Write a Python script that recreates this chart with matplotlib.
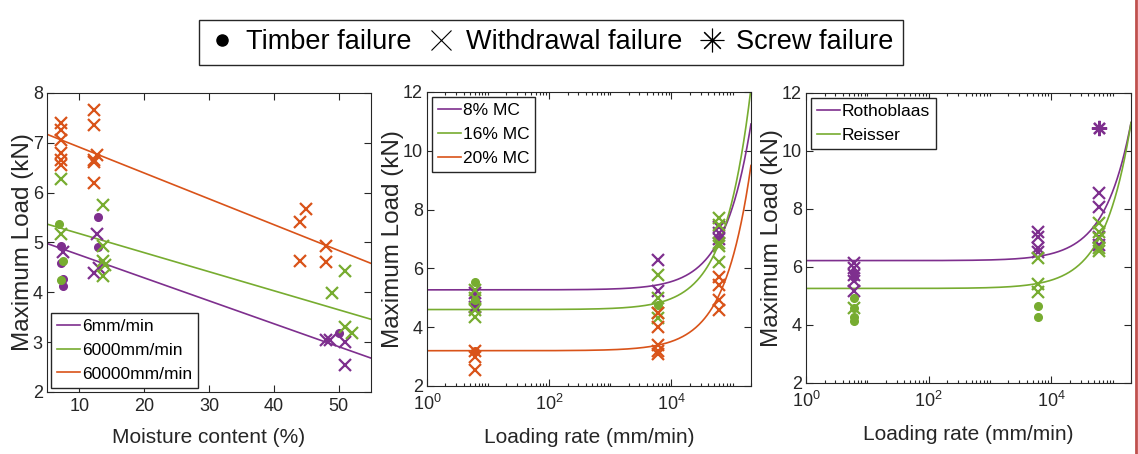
import matplotlib.pyplot as plt
import numpy as np
from matplotlib.lines import Line2D
from matplotlib.ticker import FixedLocator, LogLocator, NullFormatter

# Шрифт, схожий на Helvetica з оригіналу
plt.rcParams['font.family'] = ['Liberation Sans', 'DejaVu Sans']
plt.rcParams['mathtext.default'] = 'regular'

PURPLE = '#7E2F8E'
GREEN = '#77AC30'
ORANGE = '#D95319'

# ---- Панель 1: навантаження від вологості ----
rate_labels = ['6mm/min', '6000mm/min', '60000mm/min']
# коефіцієнти лінійної апроксимації: load = a + b * MC
rate_fit_a = [5.21, 5.56, 7.43]
rate_fit_b = [-0.046, -0.0382, -0.0518]

mc_purple_dot = [7.2, 7.2, 7.5, 7.5, 12.8, 12.8, 50.0]
kn_purple_dot = [4.92, 4.58, 4.26, 4.12, 5.52, 4.90, 3.18]
mc_purple_x = [7.5, 12.7, 12.3, 13.0, 48.0, 48.6, 51.0, 51.0]
kn_purple_x = [4.80, 5.18, 4.38, 4.48, 3.05, 3.05, 3.00, 2.55]

mc_green_dot = [6.9, 7.4, 7.1]
kn_green_dot = [5.37, 4.63, 4.25]
mc_green_x = [7.2, 7.2, 13.7, 13.7, 13.7, 13.7, 13.9, 49.0, 51.0, 51.0, 52.0]
kn_green_x = [6.28, 5.18, 5.75, 4.93, 4.62, 4.32, 4.55, 3.98, 4.42, 3.31, 3.18]

mc_orange_x = [7.2, 7.2, 7.2, 7.2, 7.2, 7.2, 12.2, 12.2, 12.2, 12.2, 12.2, 12.7,
               44.0, 44.0, 45.0, 48.0, 48.0]
kn_orange_x = [7.40, 7.25, 7.05, 6.80, 6.65, 6.55, 7.65, 7.35, 6.65, 6.62, 6.20, 6.75,
               5.42, 4.62, 5.68, 4.92, 4.60]

# ---- Панель 2: навантаження від швидкості (вологість) ----
mc_labels = ['8% MC', '16% MC', '20% MC']
# load = a + b * rate
mc_fit_a = [5.27, 4.60, 3.20]
mc_fit_b = [2.82e-5, 3.76e-5, 3.15e-5]

r2_purple_dot = [6, 6, 60000]
kn2_purple_dot = [5.00, 4.75, 7.00]
r2_purple_x = [6, 6, 6000, 6000, 60000, 60000, 60000]
kn2_purple_x = [5.15, 4.70, 6.30, 5.24, 7.42, 7.20, 7.00]

r2_green_dot = [6, 6, 6000]
kn2_green_dot = [5.52, 4.92, 4.75]
r2_green_x = [6, 6, 6, 6, 6000, 6000, 6000, 6000, 60000, 60000, 60000, 60000, 60000]
kn2_green_x = [5.26, 4.98, 4.58, 4.35, 5.77, 4.98, 4.47, 4.30, 7.70, 7.48, 6.85, 6.75, 6.22]

r2_orange_dot = [6]
kn2_orange_dot = [3.18]
r2_orange_x = [6, 6, 6, 6000, 6000, 6000, 6000, 6000, 60000, 60000, 60000, 60000]
kn2_orange_x = [3.20, 3.00, 2.55, 4.47, 4.00, 3.40, 3.20, 3.10, 5.72, 5.43, 4.92, 4.58]

# ---- Панель 3: навантаження від швидкості (тип шурупа) ----
screw_labels = ['Rothoblaas', 'Reisser']
screw_fit_a = [6.22, 5.26]
screw_fit_b = [2.38e-5, 2.86e-5]

r3_purple_dot = [6, 6]
kn3_purple_dot = [5.78, 5.67]
r3_purple_x = [6, 6, 6, 6, 6, 6000, 6000, 6000, 6000, 60000, 60000, 60000, 60000]
kn3_purple_x = [6.15, 5.95, 5.72, 5.50, 5.18, 7.20, 7.05, 6.64, 6.53, 8.54, 8.06, 7.05, 6.75]
r3_purple_star = [60000]
kn3_purple_star = [10.79]

r3_green_dot = [6, 6, 6, 6, 6000, 6000]
kn3_green_dot = [4.92, 4.57, 4.26, 4.14, 4.65, 4.26]
r3_green_x = [6, 6000, 6000, 6000, 60000, 60000, 60000, 60000, 60000]
kn3_green_x = [4.60, 6.30, 5.40, 5.15, 7.50, 7.22, 7.00, 6.66, 6.55]

fig = plt.figure(figsize=(11.38, 4.54), dpi=100)
ax1 = fig.add_axes([0.0413, 0.1366, 0.2847, 0.6586])
ax2 = fig.add_axes([0.3752, 0.1498, 0.2847, 0.6476])
ax3 = fig.add_axes([0.7083, 0.1564, 0.2856, 0.6388])

dot_kw = dict(linestyle='none', marker='o', markersize=5.5)
x_kw = dict(linestyle='none', marker='x', markersize=8.5, markeredgewidth=1.6)
TXT = '#262626'
leg_kw = dict(fontsize=12.5, handlelength=1.3, handletextpad=0.1, borderpad=0.35,
              labelspacing=0.5, fancybox=False, edgecolor=TXT, framealpha=1)


def style_axis(ax):
    ax.tick_params(which='both', direction='in', top=True, right=True,
                   labelsize=13, width=0.8, colors=TXT, labelcolor=TXT)
    ax.tick_params(axis='y', pad=3)
    ax.tick_params(axis='x', pad=6)
    ax.tick_params(which='major', length=5)
    ax.tick_params(which='minor', length=2.5)
    for s in ax.spines.values():
        s.set_color(TXT)
        s.set_linewidth(0.8)
    ax.set_ylabel('Maximum Load (kN)', fontsize=17.5, color=TXT, labelpad=-1)


# панель 1
mc_line = np.linspace(5, 55, 50)
for a, b, c, lab in zip(rate_fit_a, rate_fit_b, [PURPLE, GREEN, ORANGE], rate_labels):
    ax1.plot(mc_line, a + b * mc_line, color=c, lw=1.2, label=lab)
ax1.plot(mc_purple_dot, kn_purple_dot, color=PURPLE, **dot_kw)
ax1.plot(mc_purple_x, kn_purple_x, color=PURPLE, **x_kw)
ax1.plot(mc_green_dot, kn_green_dot, color=GREEN, **dot_kw)
ax1.plot(mc_green_x, kn_green_x, color=GREEN, **x_kw)
ax1.plot(mc_orange_x, kn_orange_x, color=ORANGE, **x_kw)
ax1.set_xlim(5, 55)
ax1.set_ylim(2, 8)
ax1.set_xticks([10, 20, 30, 40, 50])
ax1.set_yticks([2, 3, 4, 5, 6, 7, 8])
style_axis(ax1)
ax1.tick_params(axis='x', pad=4)
ax1.set_xlabel('Moisture content (%)', fontsize=15, color=TXT, labelpad=10)
ax1.legend(loc='lower left', borderaxespad=0.25, **leg_kw)

# панелі 2 і 3
rate_line = np.logspace(0, np.log10(2e5), 400)
for a, b, c, lab in zip(mc_fit_a, mc_fit_b, [PURPLE, GREEN, ORANGE], mc_labels):
    ax2.plot(rate_line, a + b * rate_line, color=c, lw=1.2, label=lab)
ax2.plot(r2_purple_dot, kn2_purple_dot, color=PURPLE, **dot_kw)
ax2.plot(r2_purple_x, kn2_purple_x, color=PURPLE, **x_kw)
ax2.plot(r2_green_dot, kn2_green_dot, color=GREEN, **dot_kw)
ax2.plot(r2_green_x, kn2_green_x, color=GREEN, **x_kw)
ax2.plot(r2_orange_dot, kn2_orange_dot, color=ORANGE, **dot_kw)
ax2.plot(r2_orange_x, kn2_orange_x, color=ORANGE, **x_kw)

for a, b, c, lab in zip(screw_fit_a, screw_fit_b, [PURPLE, GREEN], screw_labels):
    ax3.plot(rate_line, a + b * rate_line, color=c, lw=1.2, label=lab)
ax3.plot(r3_purple_dot, kn3_purple_dot, color=PURPLE, **dot_kw)
ax3.plot(r3_purple_x, kn3_purple_x, color=PURPLE, **x_kw)
ax3.plot(r3_purple_star, kn3_purple_star, color=PURPLE, linestyle='none',
         marker=(8, 2, 0), markersize=11, markeredgewidth=1.6)
ax3.plot(r3_green_dot, kn3_green_dot, color=GREEN, **dot_kw)
ax3.plot(r3_green_x, kn3_green_x, color=GREEN, **x_kw)

for ax in (ax2, ax3):
    ax.set_xscale('log')
    ax.set_xlim(1, 2e5)
    ax.set_ylim(2, 12)
    ax.set_yticks([2, 4, 6, 8, 10, 12])
    ax.xaxis.set_major_locator(FixedLocator([1, 100, 1e4]))
    ax.set_xticklabels(['$10^{0}$', '$10^{2}$', '$10^{4}$'])
    ax.xaxis.set_minor_locator(LogLocator(base=10, subs=np.arange(1, 10), numticks=20))
    ax.xaxis.set_minor_formatter(NullFormatter())
    style_axis(ax)
    ax.set_xlabel('Loading rate (mm/min)', fontsize=15, color=TXT, labelpad=10)
    ax.legend(loc='upper left', borderaxespad=0.3, **leg_kw)

# загальна легенда типів руйнування
fail_handles = [
    Line2D([], [], color='black', linestyle='none', marker='o', markersize=8),
    Line2D([], [], color='black', linestyle='none', marker='x', markersize=15, markeredgewidth=0.8),
    Line2D([], [], color='black', linestyle='none', marker=(8, 2, 0), markersize=17, markeredgewidth=0.8),
]
fig.legend(fail_handles, ['Timber failure', 'Withdrawal failure', 'Screw failure'],
           loc='center', bbox_to_anchor=(0.484, 0.907), ncol=3, fontsize=19.5,
           handlelength=1.0, handletextpad=0.4, columnspacing=0.6, borderpad=0.35,
           fancybox=False, edgecolor=TXT, framealpha=1)

# червона лінія-край справа
fig.add_artist(Line2D([1135.5 / 1138, 1135.5 / 1138], [0, 1], color='#C0504D', lw=2))

fig.savefig('out.png', dpi=100)
